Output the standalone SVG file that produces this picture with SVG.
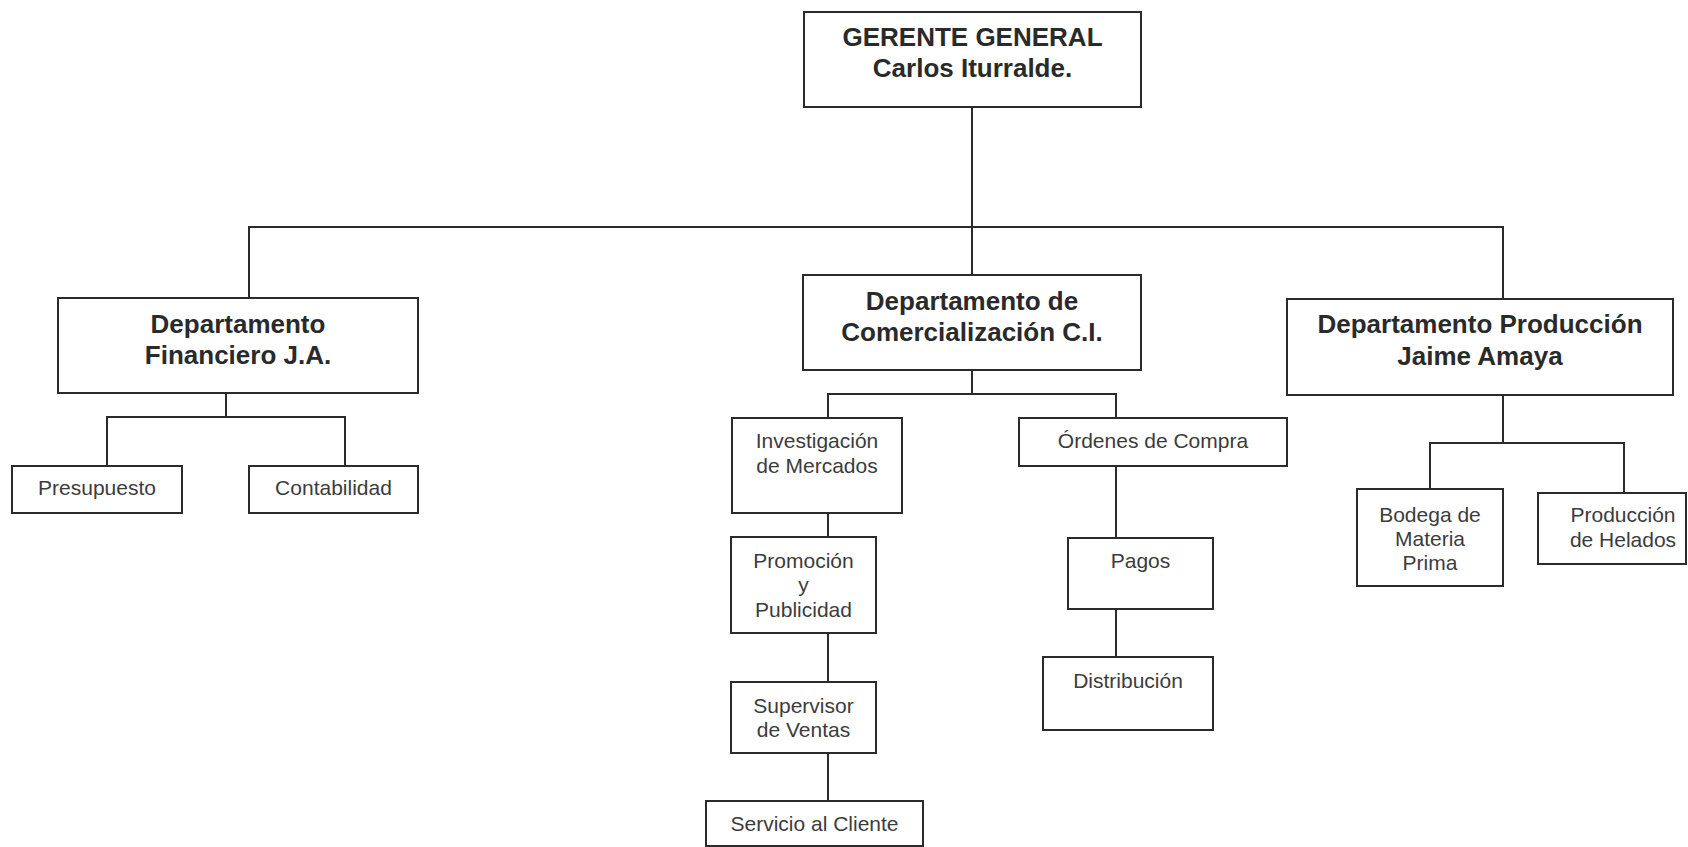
<svg xmlns="http://www.w3.org/2000/svg" width="1688" height="847" viewBox="0 0 1688 847">
<style>
.box{fill:#fff;stroke:#2b2b2b;stroke-width:2}
.ln{fill:none;stroke:#2b2b2b;stroke-width:2}
.b{font-family:"Liberation Sans",Arial,sans-serif;font-weight:bold;font-size:26px;fill:#2a2a2a;text-anchor:middle}
.r{font-family:"Liberation Sans",Arial,sans-serif;font-size:21px;fill:#3c3c3c;text-anchor:middle}
</style>
<rect width="1688" height="847" fill="#fff"/>
<g id="connectors" class="ln">
<path d="M972 107V275M249 298V227H1503V299"/>
<path d="M226 393V417M107 466V417H345V466"/>
<path d="M972 370V394M828 418V394H1116V418"/>
<path d="M828 513V537M828 633V682M828 753V801"/>
<path d="M1116 466V538M1116 609V657"/>
<path d="M1503 395V443M1430 489V443H1624V493"/>
</g>
<g id="gerente"><rect class="box" x="804" y="12" width="337" height="95"/><text class="b" x="972.5" y="46">GERENTE GENERAL</text><text class="b" x="972.5" y="77">Carlos Iturralde.</text></g>
<g id="financiero"><rect class="box" x="58" y="298" width="360" height="95"/><text class="b" x="238" y="333">Departamento</text><text class="b" x="238" y="364">Financiero J.A.</text></g>
<g id="comercializacion"><rect class="box" x="803" y="275" width="338" height="95"/><text class="b" x="972" y="310">Departamento de</text><text class="b" x="972" y="341">Comercialización C.I.</text></g>
<g id="produccion"><rect class="box" x="1287" y="299" width="386" height="96"/><text class="b" x="1480" y="333">Departamento Producción</text><text class="b" x="1480" y="365">Jaime Amaya</text></g>
<g id="presupuesto"><rect class="box" x="12" y="466" width="170" height="47"/><text class="r" x="97" y="495">Presupuesto</text></g>
<g id="contabilidad"><rect class="box" x="249" y="466" width="169" height="47"/><text class="r" x="333.5" y="495">Contabilidad</text></g>
<g id="investigacion"><rect class="box" x="732" y="418" width="170" height="95"/><text class="r" x="817" y="448">Investigación</text><text class="r" x="817" y="473">de Mercados</text></g>
<g id="ordenes"><rect class="box" x="1019" y="418" width="268" height="48"/><text class="r" x="1153" y="448">Órdenes de Compra</text></g>
<g id="promocion"><rect class="box" x="731" y="537" width="145" height="96"/><text class="r" x="803.5" y="568">Promoción</text><text class="r" x="803.5" y="592">y</text><text class="r" x="803.5" y="617">Publicidad</text></g>
<g id="supervisor"><rect class="box" x="731" y="682" width="145" height="71"/><text class="r" x="803.5" y="713">Supervisor</text><text class="r" x="803.5" y="737">de Ventas</text></g>
<g id="servicio"><rect class="box" x="706" y="801" width="217" height="45"/><text class="r" x="814.5" y="831">Servicio al Cliente</text></g>
<g id="pagos"><rect class="box" x="1068" y="538" width="145" height="71"/><text class="r" x="1140.5" y="568">Pagos</text></g>
<g id="distribucion"><rect class="box" x="1043" y="657" width="170" height="73"/><text class="r" x="1128" y="688">Distribución</text></g>
<g id="bodega"><rect class="box" x="1357" y="489" width="146" height="97"/><text class="r" x="1430" y="522">Bodega de</text><text class="r" x="1430" y="546">Materia</text><text class="r" x="1430" y="570">Prima</text></g>
<g id="helados"><rect class="box" x="1538" y="493" width="148" height="71"/><text class="r" x="1623" y="522">Producción</text><text class="r" x="1623" y="547">de Helados</text></g>
</svg>
